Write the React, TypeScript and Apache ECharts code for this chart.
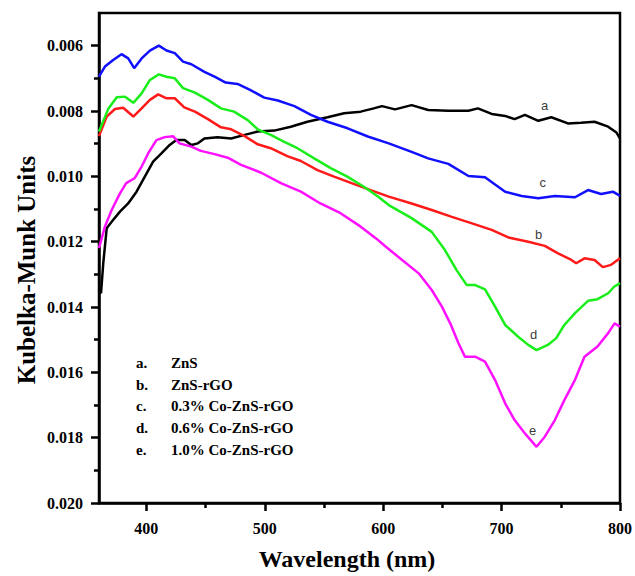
import React, { useEffect, useRef } from "react";
import * as echarts from "echarts";

// ---- data (wavelength in nm, Kubelka-Munk units) ----
const aWl = [360, 361.7, 363.6, 366.5, 370.7, 377.7, 384.6, 391.7, 398.7, 405.7, 412.7, 419.7, 425.3, 432.3, 438, 443.5, 449, 460, 471.6, 483, 494, 508, 522, 536, 553, 567, 581, 592, 599, 610, 624, 638, 655, 672, 680, 691.6, 703, 711, 719.7, 731, 742, 756, 767, 778.5, 790, 797, 800];
const aVal = [0.01348, 0.01358, 0.01266, 0.01159, 0.01139, 0.01108, 0.01083, 0.01047, 0.01001, 0.00955, 0.0093, 0.00904, 0.00889, 0.00889, 0.00904, 0.00899, 0.00884, 0.0088, 0.00884, 0.00873, 0.00863, 0.0086, 0.00848, 0.00833, 0.00819, 0.00807, 0.00802, 0.00792, 0.00785, 0.00795, 0.00782, 0.00797, 0.00799, 0.00799, 0.00792, 0.00809, 0.00815, 0.00825, 0.00812, 0.0083, 0.00819, 0.00838, 0.00836, 0.00833, 0.00848, 0.00866, 0.00884];

const bWl = [360, 366.5, 373.5, 380.4, 389, 396, 403, 410, 417, 424, 432, 441, 452, 463, 471.6, 483, 494, 505, 519, 530.5, 544.5, 558.5, 575, 590, 604.7, 624, 641, 658, 675, 691.6, 705.7, 722.5, 736.5, 747.7, 759, 763, 770, 778.5, 785.5, 792.5, 800];
const bVal = [0.00877, 0.00817, 0.00794, 0.0079, 0.00817, 0.00792, 0.00766, 0.00749, 0.00761, 0.00761, 0.00789, 0.00802, 0.00825, 0.0085, 0.00856, 0.00877, 0.00902, 0.00914, 0.00938, 0.00953, 0.00981, 0.01001, 0.01023, 0.01043, 0.01062, 0.01083, 0.01103, 0.01124, 0.01144, 0.01164, 0.01187, 0.012, 0.01213, 0.01236, 0.01256, 0.01266, 0.01251, 0.01256, 0.01278, 0.01271, 0.01251];

const cWl = [360, 365, 372, 379, 384.7, 389.7, 396, 403, 410.5, 417, 424, 431, 438, 449, 457.6, 467, 477, 488, 499.6, 511, 525, 539, 553, 570, 587, 604.7, 624, 638, 655, 672, 686, 703, 717, 731, 745, 762, 773, 784, 794, 800];
const cVal = [0.00695, 0.00664, 0.00644, 0.00626, 0.00639, 0.00669, 0.00639, 0.00615, 0.006, 0.00615, 0.00623, 0.00649, 0.00657, 0.0068, 0.00695, 0.00713, 0.00717, 0.00736, 0.00759, 0.00768, 0.00785, 0.00812, 0.00833, 0.00853, 0.00878, 0.00899, 0.00925, 0.00945, 0.00962, 0.00999, 0.01003, 0.01047, 0.0106, 0.01067, 0.0106, 0.01064, 0.01042, 0.01054, 0.01047, 0.0106];

const dWl = [360, 368, 375, 382, 389, 396, 403, 410.5, 417, 424, 431, 441, 452, 463, 474, 485.6, 494, 505, 516, 527.6, 541.7, 555.7, 569.7, 583.7, 595, 604.7, 624, 641, 652, 662, 670.6, 677.7, 686, 694.5, 703, 714, 722.5, 729.5, 739, 746, 753, 762, 773, 781, 790, 795, 800];
const dVal = [0.00863, 0.00792, 0.00758, 0.00756, 0.00775, 0.00746, 0.00705, 0.00688, 0.00695, 0.007, 0.0073, 0.00744, 0.00766, 0.00792, 0.00802, 0.00828, 0.00856, 0.00873, 0.00894, 0.00914, 0.00945, 0.00975, 0.01001, 0.01032, 0.0106, 0.01088, 0.01128, 0.0117, 0.01225, 0.01287, 0.01333, 0.01333, 0.01346, 0.01399, 0.01455, 0.01491, 0.01516, 0.01532, 0.01516, 0.01496, 0.01455, 0.01419, 0.01381, 0.01376, 0.01358, 0.01338, 0.01327];

const eWl = [360, 365, 370.7, 377.7, 383, 390, 396, 401.5, 408.5, 415.5, 422.5, 428, 438, 446, 457.6, 468.7, 480, 497, 513.6, 530.5, 547, 564, 581, 594, 602, 616, 630, 641, 649.6, 656.6, 663.6, 669, 677.6, 686, 694.4, 703, 711, 719.7, 729.5, 736.5, 745, 753, 762, 770, 781, 790, 795.4, 800];
const eVal = [0.0122, 0.01154, 0.01103, 0.01052, 0.01021, 0.01006, 0.0097, 0.0093, 0.00889, 0.0088, 0.00877, 0.00899, 0.00909, 0.00922, 0.00932, 0.00943, 0.00965, 0.00989, 0.01021, 0.01047, 0.01083, 0.01113, 0.01154, 0.0119, 0.01215, 0.01256, 0.01297, 0.01348, 0.01399, 0.0145, 0.01511, 0.01552, 0.01552, 0.01567, 0.01623, 0.01695, 0.01746, 0.01787, 0.01828, 0.01797, 0.01746, 0.01685, 0.01623, 0.01552, 0.01521, 0.0148, 0.0145, 0.0146];

const curveTags = ["a", "b", "c", "d", "e"];
const tagWl = [736.8, 731.7, 735.1, 727.5, 726.7];
const tagVal = [0.00785, 0.0118, 0.0102, 0.01486, 0.01779];

const legendKeys = ["a.", "b.", "c.", "d.", "e."];
const legendNames = ["ZnS", "ZnS-rGO", "0.3% Co-ZnS-rGO", "0.6% Co-ZnS-rGO", "1.0% Co-ZnS-rGO"];

const xMajor = [400, 500, 600, 700, 800];
const xMinor = [450, 550, 650, 750];
const yMajor = [0.006, 0.008, 0.01, 0.012, 0.014, 0.016, 0.018, 0.02];
const yMinor = [0.007, 0.009, 0.011, 0.013, 0.015, 0.017, 0.019];

const serif = '"Liberation Serif", "Times New Roman", serif';

const zip = (xs: number[], ys: number[]) => xs.map((x, i) => [x, ys[i]]);

export default function App() {
  const ref = useRef<HTMLDivElement>(null);
  useEffect(() => {
    if (!ref.current) return;
    const chart = echarts.init(ref.current, undefined, { renderer: "svg" });
    const lineSeries = (name: string, xs: number[], ys: number[], color: string) => ({
      name,
      type: "line",
      xAxisIndex: 0,
      yAxisIndex: 0,
      data: zip(xs, ys),
      showSymbol: false,
      symbol: "none",
      lineStyle: { color, width: 2.5 },
      clip: true,
    });
    const yBase = { type: "value", min: 0.005, max: 0.02, inverse: true, position: "left", splitLine: { show: false } };
    const xBase = { type: "value", min: 360, max: 800, position: "bottom", splitLine: { show: false } };
    chart.setOption({
      animation: false,
      backgroundColor: "#fff",
      grid: { left: 99, right: 13, top: 13, bottom: 73, show: true, borderColor: "#000", borderWidth: 2.5, backgroundColor: "transparent" },
      xAxis: [
        {
          ...xBase,
          axisLine: { show: true, lineStyle: { color: "#000", width: 2.5 } },
          axisTick: { show: true, inside: false, length: 8, customValues: xMajor, lineStyle: { color: "#000", width: 2.5 } },
          axisLabel: { customValues: xMajor, margin: 17, color: "#000", fontSize: 16, fontWeight: "bold", fontFamily: serif },
        },
        {
          ...xBase,
          axisLine: { show: false },
          axisTick: { show: true, inside: false, length: 5, customValues: xMinor, lineStyle: { color: "#000", width: 2.5 } },
          axisLabel: { show: false },
        },
      ],
      yAxis: [
        {
          ...yBase,
          axisLine: { show: true, lineStyle: { color: "#000", width: 2.5 } },
          axisTick: { show: true, inside: false, length: 8, customValues: yMajor, lineStyle: { color: "#000", width: 2.5 } },
          axisLabel: {
            customValues: yMajor,
            margin: 16,
            color: "#000",
            fontSize: 16,
            fontWeight: "bold",
            fontFamily: serif,
            formatter: (v: number) => v.toFixed(3),
          },
        },
        {
          ...yBase,
          axisLine: { show: false },
          axisTick: { show: true, inside: false, length: 5, customValues: yMinor, lineStyle: { color: "#000", width: 2.5 } },
          axisLabel: { show: false },
        },
      ],
      series: [
        lineSeries("a", aWl, aVal, "#000000"),
        lineSeries("b", bWl, bVal, "#ff1a1a"),
        lineSeries("c", cWl, cVal, "#1010ff"),
        lineSeries("d", dWl, dVal, "#1aee1a"),
        lineSeries("e", eWl, eVal, "#ff10ff"),
        {
          type: "scatter",
          xAxisIndex: 0,
          yAxisIndex: 0,
          symbolSize: 1,
          itemStyle: { color: "rgba(0,0,0,0)" },
          data: curveTags.map((t, i) => [tagWl[i], tagVal[i], t]),
          label: {
            show: true,
            position: [0, 0],
            align: "center",
            verticalAlign: "middle",
            formatter: (p: any) => p.value[2],
            color: "#000000",
            textBorderWidth: 0,
            fontSize: 13,
            fontFamily: '"Liberation Sans", Arial, sans-serif',
          },
        },
      ],
      graphic: [
        {
          type: "text",
          x: 26,
          y: 270,
          rotation: Math.PI / 2,
          style: { text: "Kubelka-Munk Units", fontSize: 25, fontWeight: "bold", fontFamily: serif, fill: "#000", align: "center", verticalAlign: "middle" },
        },
        {
          type: "text",
          x: 347,
          y: 559,
          style: { text: "Wavelength (nm)", fontSize: 24, fontWeight: "bold", fontFamily: serif, fill: "#000", align: "center", verticalAlign: "middle" },
        },
        ...legendKeys.map((k, i) => ({
          type: "text",
          x: 136,
          y: 363 + i * 21.7,
          style: { text: k, fontSize: 15, fontWeight: "bold", fontFamily: serif, fill: "#000", align: "left", verticalAlign: "middle" },
        })),
        ...legendNames.map((n, i) => ({
          type: "text",
          x: 171,
          y: 363 + i * 21.7,
          style: { text: n, fontSize: 15, fontWeight: "bold", fontFamily: serif, fill: "#000", align: "left", verticalAlign: "middle" },
        })),
      ],
    });
    return () => chart.dispose();
  }, []);
  return <div ref={ref} style={{ position: "fixed", left: 0, top: 0, width: 635, height: 576 }} />;
}
